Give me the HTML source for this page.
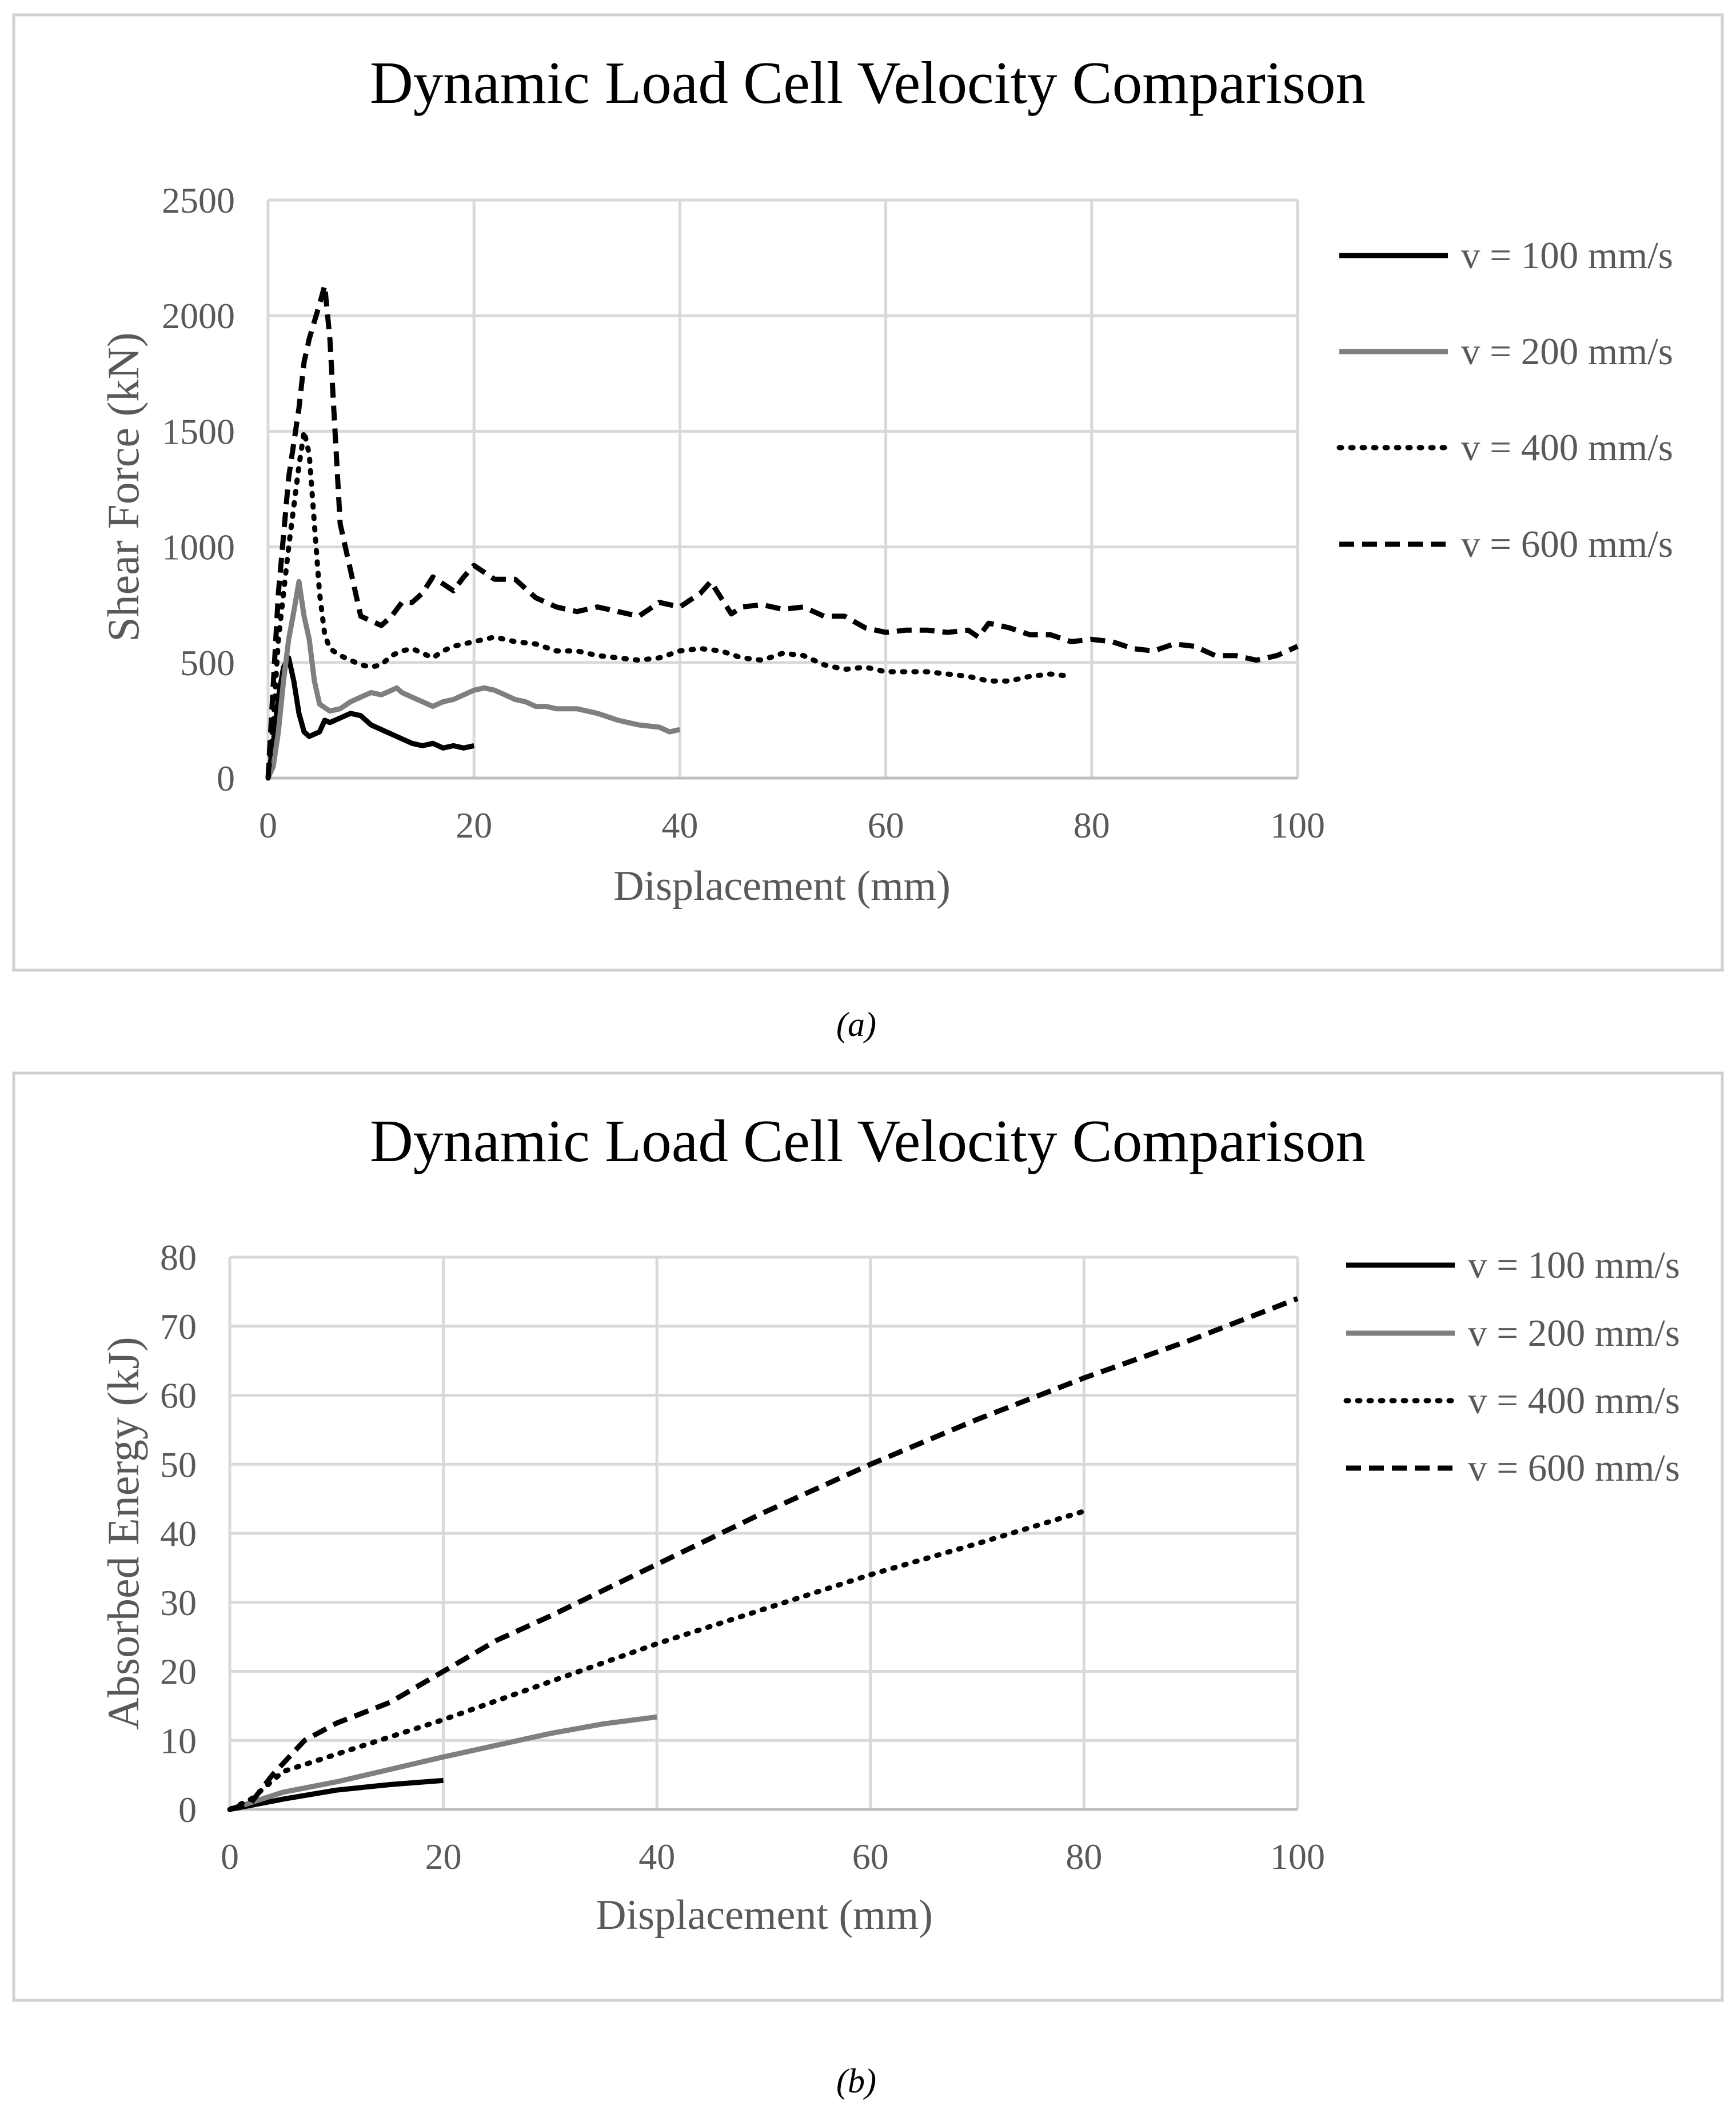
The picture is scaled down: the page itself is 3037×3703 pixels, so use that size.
<!DOCTYPE html>
<html><head><meta charset="utf-8"><style>
html,body{margin:0;padding:0;background:#fff;}
svg{display:block;font-family:"Liberation Serif",serif;}
</style></head><body>
<svg id="s" width="3037" height="3703" viewBox="0 0 3037 3703" xmlns="http://www.w3.org/2000/svg">
<rect x="24" y="26" width="2989" height="1671" fill="none" stroke="#d0d0d0" stroke-width="5"/>
<rect x="24" y="1877" width="2989" height="1622" fill="none" stroke="#d0d0d0" stroke-width="5"/>
<text x="1518" y="180" font-size="105" text-anchor="middle" fill="#000">Dynamic Load Cell Velocity Comparison</text>
<text x="1518" y="2031" font-size="105" text-anchor="middle" fill="#000">Dynamic Load Cell Velocity Comparison</text>
<text x="1498" y="1812" font-size="60" font-style="italic" text-anchor="middle">(a)</text>
<text x="1498" y="3660" font-size="60" font-style="italic" text-anchor="middle">(b)</text>
<g id="ga"></g><g id="gb"></g>
</svg>
<script>
// Chart A data
const aXTicks=[0,20,40,60,80,100];
const aYTicks=[0,500,1000,1500,2000,2500];
const a100X=[0,0.5,1,1.5,2,2.5,3,3.5,4,5,5.5,6,7,8,9,10,11,12,13,14,15,16,17,18,19,20];
const a100Y=[0,150,350,480,520,420,280,200,180,200,250,240,260,280,270,230,210,190,170,150,140,150,130,140,130,140];
const a200X=[0,0.5,1,1.5,2,2.5,3,3.5,4,4.5,5,6,7,8,9,10,11,12,12.5,13,14,15,16,17,18,19,20,21,22,23,24,25,26,27,28,30,32,34,36,38,39,40];
const a200Y=[0,50,200,420,600,720,850,700,600,420,320,290,300,330,350,370,360,380,390,370,350,330,310,330,340,360,380,390,380,360,340,330,310,310,300,300,280,250,230,220,200,210];
const a400X=[0,0.5,1,2,3,3.5,4,4.5,5,5.5,6,7,8,9,10,11,12,13,14,15,16,17,18,20,22,24,26,28,30,32,34,36,38,40,42,44,46,48,50,52,54,56,58,60,62,64,66,68,70,72,74,76,78];
const a400Y=[0,250,600,1000,1350,1500,1400,1100,800,620,560,530,510,490,480,490,530,550,560,540,520,550,570,590,610,590,580,550,550,530,520,510,520,550,560,550,520,510,540,530,490,470,480,460,460,460,450,440,420,420,440,450,440];
const a600X=[0,0.5,1,2,3,3.5,4,5,5.5,6,6.5,7,8,9,10,11,12,13,14,15,16,17,18,19,20,21,22,24,26,28,30,32,34,36,38,40,42,43,44,45,46,48,50,52,54,56,58,60,62,64,66,68,69,70,72,74,76,78,80,82,84,86,88,90,92,94,96,98,100];
const a600Y=[0,400,800,1300,1600,1800,1900,2050,2130,1900,1500,1100,900,700,680,660,700,760,760,800,870,840,810,870,920,890,860,860,780,740,720,740,720,700,760,740,800,850,780,710,740,750,730,740,700,700,650,630,640,640,630,640,610,670,650,620,620,590,600,590,560,550,580,570,530,530,510,530,570];
// Chart B data
const bXTicks=[0,20,40,60,80,100];
const bYTicks=[0,10,20,30,40,50,60,70,80];
const b100X=[0,5,10,15,20];
const b100Y=[0,1.5,2.8,3.6,4.2];
const b200X=[0,5,10,15,20,25,30,35,40];
const b200Y=[0,2.5,4,5.8,7.6,9.3,11,12.4,13.4];
const b400X=[0,2,5,10,20,30,40,50,60,70,80];
const b400Y=[0,1.5,5.5,8,13,18.5,24,29,34,38.5,43.2];
const b600X=[0,2,4,7,10,15,20,25,30,40,50,60,70,80,90,100];
const b600Y=[0,1,5,10,12.5,15.5,20,24.5,28,35.5,43,50,56.5,62.5,68,74];
const legendLabels=["v = 100 mm/s","v = 200 mm/s","v = 400 mm/s","v = 600 mm/s"];
const NS="http://www.w3.org/2000/svg";
const styles=[{c:"#000",d:""},{c:"#7f7f7f",d:""},{c:"#000",d:"4 16"},{c:"#000",d:"26 14"}];
function mk(tag,attrs,parent){const e=document.createElementNS(NS,tag);for(const k in attrs)e.setAttribute(k,attrs[k]);parent.appendChild(e);return e;}
function chart(g,cfg){
  const sx=v=>cfg.x0+(v-cfg.xmin)/(cfg.xmax-cfg.xmin)*(cfg.x1-cfg.x0);
  const sy=v=>cfg.y0-(v-cfg.ymin)/(cfg.ymax-cfg.ymin)*(cfg.y0-cfg.y1);
  cfg.xt.forEach(t=>{const l=mk('line',{x1:sx(t),x2:sx(t),y1:cfg.y1,y2:cfg.y0,stroke:'#d9d9d9','stroke-width':5},g);
    
    
    const tx=mk('text',{x:sx(t),y:cfg.y0+104,'font-size':64,'text-anchor':'middle',fill:'#595959'},g);tx.textContent=t;
    
    });
  cfg.yt.forEach(t=>{const l=mk('line',{x1:cfg.x0,x2:cfg.x1,y1:sy(t),y2:sy(t),stroke:t===0?'#bfbfbf':'#d9d9d9','stroke-width':5},g);
    
    
    const tx=mk('text',{x:cfg.x0-58,y:sy(t)+22,'font-size':64,'text-anchor':'end',fill:'#595959'},g);tx.textContent=t;
    
    });
  cfg.series.forEach((s,i)=>{const p=s[0].map((x,j)=>sx(x).toFixed(1)+','+sy(s[1][j]).toFixed(1)).join(' ');
    const pl=mk('polyline',{points:p,fill:'none',stroke:styles[i].c,'stroke-width':9,'stroke-dasharray':styles[i].d,'stroke-linecap':i===2?'round':'butt','stroke-linejoin':'round'},g);
    
    
    const ly=cfg.ly[i];
    const ll=mk('line',{x1:cfg.lx,x2:cfg.lx+190,y1:ly,y2:ly,stroke:styles[i].c,'stroke-width':9,'stroke-dasharray':styles[i].d,'stroke-linecap':i===2?'round':'butt'},g);
    
    
    const lt=mk('text',{x:cfg.lx+213,y:ly+22,'font-size':67,fill:'#595959'},g);lt.textContent=legendLabels[i];
    
    });
  const xt=mk('text',{x:cfg.xtx,y:cfg.xty,'font-size':74,'text-anchor':'middle',fill:'#595959'},g);xt.textContent='Displacement (mm)';
  
  
  const yt=mk('text',{x:0,y:0,'font-size':78,'text-anchor':'middle',fill:'#595959',transform:`translate(${cfg.ytx},${cfg.yty}) rotate(-90)`},g);yt.textContent=cfg.ytitle;
  
  
}
chart(document.getElementById('ga'),{x0:469,x1:2270,y0:1361,y1:350,xmin:0,xmax:100,ymin:0,ymax:2500,xt:aXTicks,yt:aYTicks,
  series:[[a100X,a100Y],[a200X,a200Y],[a400X,a400Y],[a600X,a600Y]],lx:2343,ly:[447,615,783,952],xtx:1368,xty:1574,ytx:242,yty:852,ytitle:'Shear Force (kN)'});
chart(document.getElementById('gb'),{x0:402,x1:2270,y0:3165,y1:2199,xmin:0,xmax:100,ymin:0,ymax:80,xt:bXTicks,yt:bYTicks,
  series:[[b100X,b100Y],[b200X,b200Y],[b400X,b400Y],[b600X,b600Y]],lx:2355,ly:[2213,2332,2450,2568],xtx:1337,xty:3374,ytx:242,yty:2682,ytitle:'Absorbed Energy (kJ)'});
document.getElementById('ga');
document.getElementById('ga');
document.getElementById('gb');
document.getElementById('gb');
</script>
</body></html>
